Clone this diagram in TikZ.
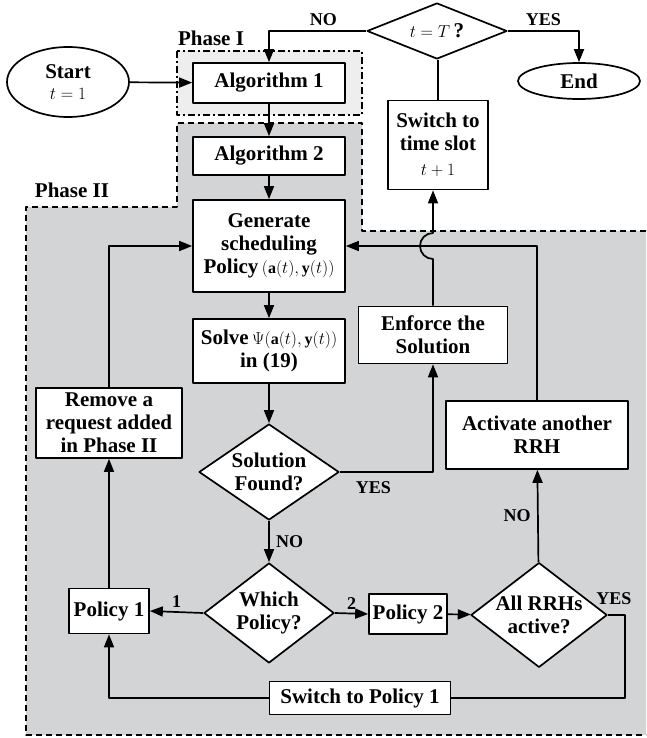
\documentclass[tikz,border=0pt]{standalone}
\usepackage{amsmath}
\usepackage{amssymb}
\usepackage{fontspec}
\setmainfont{Liberation Serif}
\usepackage{tikz}
\usetikzlibrary{arrows.meta,shapes.geometric,calc}
\usepackage{xcolor}
\definecolor{phaseonefill}{RGB}{238,238,238}
\definecolor{phasetwofill}{RGB}{211,212,214}

\begin{document}
\begin{tikzpicture}[
    x=1pt,
    y=-1pt,
    >={Triangle[length=13pt,width=10pt]},
    line join=round,
    font=\bfseries\fontsize{21}{23}\selectfont,
    block/.style={draw=black, fill=white, line width=1.7pt, align=center, inner sep=2pt},
    decide/.style={draw=black, fill=white, line width=1.7pt, diamond, aspect=#1, inner sep=0pt, align=center},
    term/.style={draw=black, fill=white, line width=1.7pt, ellipse, inner sep=0pt, align=center},
    flow/.style={draw=black, line width=1.7pt, ->},
    link/.style={draw=black, line width=1.7pt},
    answer/.style={font=\bfseries\fontsize{18}{20}\selectfont},
    phaseone/.style={draw=black, line width=1.8pt, fill=phaseonefill, dash pattern=on 7pt off 3pt on 2pt off 3pt},
    phasetwo/.style={draw=black, line width=1.8pt, dash pattern=on 6pt off 4pt},
  ]

  \def\colX{269}
  \newcommand{\msz}{\mdseries\fontsize{16}{18}\selectfont}

  % Phase regions
  \fill[phasetwofill] (177,123) -- (362,123) -- (362,231) -- (646,231) -- (646,735) -- (26,735) -- (26,207) -- (177,207) -- cycle;
  \draw[phasetwo] (646,231) -- (362,231) -- (362,123) -- (177,123) -- (177,207) -- (26,207) -- (26,735) -- (646,735);
  \draw[phaseone] (177,51) rectangle (362,115);
  \node (phI) at (211,38) {Phase I};
  \node (phII) at (72,190) {Phase II};

  % Main column
  \node[term, minimum width=122, minimum height=70] (start) at (68,82) {Start\\[-2pt]{\msz $t=1$}};
  \node[block, minimum width=152, minimum height=40] (alg1) at (\colX,83) {Algorithm 1};
  \node[block, minimum width=152, minimum height=38] (alg2) at (\colX,156) {Algorithm 2};
  \node[block, minimum width=152, minimum height=92] (gen) at (\colX,246) {Generate\\scheduling\\Policy\,{\msz $(\mathbf{a}(t),\mathbf{y}(t))$}};
  \node[block, minimum width=152, minimum height=64] (solve) at (\colX,351) {Solve\,{\msz $\Psi(\mathbf{a}(t),\mathbf{y}(t))$}\\in (19)};
  \node[decide=1.45, minimum width=140, minimum height=96] (found) at (\colX,472) {Solution\\Found?};
  \node[decide=1.3, minimum width=130, minimum height=100] (which) at (\colX,613) {Which\\Policy?};

  % Left branch
  \node[block, minimum width=80, minimum height=45] (pol1) at (109,611) {Policy 1};
  \node[block, minimum width=146, minimum height=70] (remove) at (109,423) {Remove a\\request added\\in Phase II};

  % Right branch
  \node[block, minimum width=78, minimum height=40] (pol2) at (408,614) {Policy 2};
  \node[decide=1.3, minimum width=136, minimum height=104] (allrrh) at (539,615) {All RRHs\\active?};
  \node[block, minimum width=181, minimum height=33] (swpol) at (360,698) {Switch to Policy 1};
  \node[block, minimum width=182, minimum height=68] (activate) at (537,435) {Activate another\\RRH};
  \node[block, minimum width=149, minimum height=57] (enforce) at (433,335) {Enforce the\\Solution};

  % Time loop
  \node[block, minimum width=100, minimum height=89] (swslot) at (438,145) {Switch to\\time slot\\[2pt]{\msz $t+1$}};
  \node[decide=2.5, minimum width=140, minimum height=56] (tcheck) at (437,31) {{\msz $t=T$}\,?};
  \node[term, minimum width=122, minimum height=36] (stop) at (579,81) {End};

  % Connectors
  \draw[flow] (start) -- (alg1);
  \draw[flow] (tcheck.west) -| node[answer, above=1pt, pos=0.22] {NO} (alg1.north);
  \draw[flow] (tcheck.east) -| node[answer, above=1pt, pos=0.25] {YES} (stop.north);
  \draw[link] (swslot.north) -- (swslot.north |- tcheck.south);
  \draw[flow] (alg1) -- (alg2);
  \draw[flow] (alg2) -- (gen);
  \draw[flow] (gen) -- (solve);
  \draw[flow] (solve) -- (found);
  \draw[flow] (found) -- node[answer, right=3pt, midway] {NO} (which);
  \draw[flow] (found.east) -| node[answer, below=5pt, pos=0.18] {YES} (enforce.south);
  \draw[flow] (enforce.north) -- ($(enforce.north |- gen.east)+(0,13)$) arc[start angle=90, end angle=270, radius=13] -- (swslot.south -| enforce.north);
  \draw[flow] (activate.north) |- (gen.east);
  \draw[flow] (which.west) -- node[answer, above, midway] {1} (pol1.east);
  \draw[flow] (which.east) -- node[answer, above, midway] {2} (pol2.west);
  \draw[flow] (pol2) -- (allrrh);
  \draw[flow] (allrrh) -- node[answer, left=3pt, midway] {NO} (activate);
  \draw[link] (allrrh.east) -- node[answer, above=6pt, pos=0.35] {YES} ++(17,0) |- (swpol.east);
  \draw[flow] (swpol.west) -| (pol1.south);
  \draw[flow] (pol1) -- (remove);
  \draw[flow] (remove.north) |- (gen.west);

  \useasboundingbox (0,0) rectangle (646,738);
\end{tikzpicture}
\end{document}
